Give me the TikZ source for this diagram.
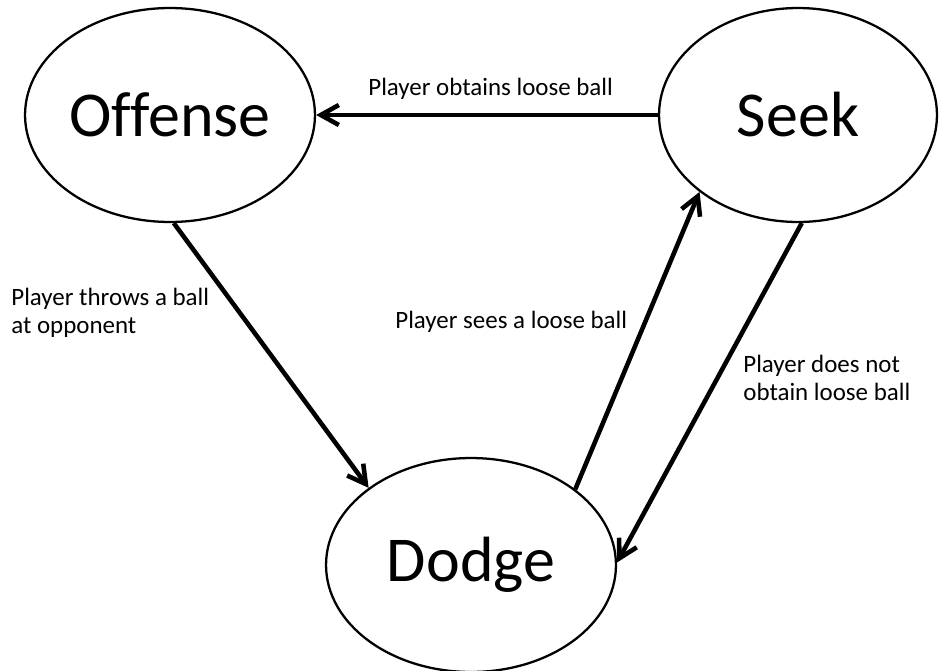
\documentclass[tikz,border=0pt]{standalone}
\usepackage{fontspec}
\setmainfont{Carlito}[Ligatures=CommonOff]
\usetikzlibrary{shapes.geometric, arrows.meta}

\begin{document}
\begin{tikzpicture}[x=0.02cm, y=-0.02cm,
    every node/.style={inner sep=0pt},
    state/.style={draw, ellipse, line width=1.3pt, minimum width=5.8cm, minimum height=4.28cm,
      font=\fontsize{36.4pt}{40pt}\selectfont},
    trans/.style={line width=2.6pt, -{Straight Barb[length=0.36cm, width=0.4cm]}},
    lbl/.style={font=\fontsize{14.2pt}{15.9pt}\selectfont, align=left}]
  \useasboundingbox (0,0) rectangle (939,670);

  % States
  \node[state] (offense) at (170,115) {Offense};
  \node[state, minimum width=5.56cm] (seek) at (798,115) {Seek};
  \node[state] (dodge) at (471,565) {Dodge};

  % Transitions
  \draw[trans] (seek.west) -- (offense.east);
  \draw[trans] (offense.-88) -- (dodge.143);
  \draw[trans] (dodge.36) -- (seek.-142);
  \draw[trans] (seek.-88) -- (dodge.1);

  % Labels
  \node[lbl, anchor=base west] (obtains) at (368,95) {Player obtains loose ball};
  \node[lbl, anchor=north west] (throws) at (11,288) {Player throws a ball\\at opponent};
  \node[lbl, anchor=base west] (sees) at (395,328) {Player sees a loose ball};
  \node[lbl, anchor=north west] (notobtain) at (743,355) {Player does not\\obtain loose ball};
\end{tikzpicture}
\end{document}
